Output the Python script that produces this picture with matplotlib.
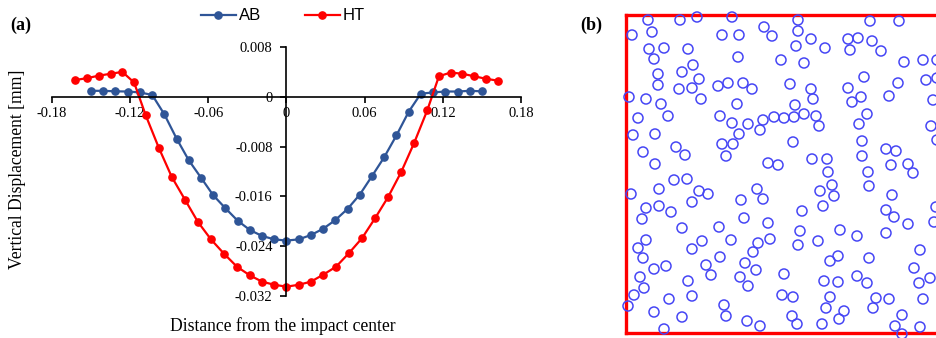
import matplotlib
matplotlib.use("Agg")
import matplotlib.pyplot as plt

plt.rcParams['font.family'] = ['Liberation Serif', 'DejaVu Serif']

# panel (a): vertical displacement profiles
ab_x = [-0.15, -0.1406, -0.1313, -0.1219, -0.1125, -0.1031, -0.0938, -0.0844, -0.075,
        -0.0656, -0.0563, -0.0469, -0.0375, -0.0281, -0.0188, -0.0094, 0.0,
        0.0094, 0.0188, 0.0281, 0.0375, 0.0469, 0.0563, 0.0656, 0.075,
        0.0844, 0.0938, 0.1031, 0.1125, 0.1219, 0.1313, 0.1406, 0.15]
ab_y = [0.00096, 0.00096, 0.00088, 0.00085, 0.0007, 0.0003, -0.0028, -0.0067, -0.0102,
        -0.0130, -0.0158, -0.0179, -0.0199, -0.0214, -0.02235, -0.0229, -0.0231,
        -0.0229, -0.0222, -0.0212, -0.0198, -0.0180, -0.0157, -0.01275, -0.0097,
        -0.0062, -0.0024, 0.0005, 0.0007, 0.00085, 0.00085, 0.00096, 0.00088]

ht_x = [-0.162, -0.153, -0.144, -0.135, -0.126, -0.117, -0.108, -0.098, -0.088,
        -0.078, -0.068, -0.058, -0.048, -0.038, -0.028, -0.0187, -0.0093, 0.0,
        0.0093, 0.0187, 0.028, 0.038, 0.048, 0.058, 0.068, 0.078, 0.088,
        0.098, 0.108, 0.117, 0.126, 0.135, 0.144, 0.153, 0.162]
ht_y = [0.0027, 0.0030, 0.0034, 0.0037, 0.0040, 0.0023, -0.0030, -0.0082, -0.0129,
        -0.0165, -0.0201, -0.0229, -0.0252, -0.0273, -0.0287, -0.0297, -0.0302, -0.0305,
        -0.0302, -0.0297, -0.0286, -0.0273, -0.0251, -0.0227, -0.0195, -0.0161, -0.0121,
        -0.0074, -0.0022, 0.0033, 0.0039, 0.0037, 0.0033, 0.0029, 0.0026]

x_ticks = [-0.18, -0.12, -0.06, 0, 0.06, 0.12, 0.18]
x_ticklabels = ['-0.18', '-0.12', '-0.06', '0', '0.06', '0.12', '0.18']
y_ticks = [-0.032, -0.024, -0.016, -0.008, 0, 0.008]
y_ticklabels = ['-0.032', '-0.024', '-0.016', '-0.008', '0', '0.008']

# panel (b): particle positions (picture frame units)
circle_x = [648, 680, 697, 632, 652, 722, 649, 664, 688, 654, 693, 682, 658, 699, 658, 679, 692, 718,
            728, 629, 646, 661, 701, 638, 668, 720, 633, 655, 722, 676, 685, 643, 726, 655,
            732, 764, 772, 739, 798, 798, 811, 796, 825, 738, 781, 804, 743, 752, 790, 811, 813,
            737, 795, 804, 794, 784, 774, 763, 816, 819, 732, 748, 760, 739, 733, 793, 768, 778,
            812, 827, 828,
            870, 899, 848, 858, 872, 850, 881, 904, 923, 937, 864, 898, 926, 937, 848, 861, 852,
            889, 933, 867, 859, 931, 862, 886, 896, 862, 937, 891, 908, 868, 913,
            674, 687, 631, 659, 699, 708, 646, 659, 671, 692, 642, 682, 719, 646, 638, 643, 692,
            702, 731, 720, 654, 666, 706, 711, 640, 644, 688, 634, 628, 669, 692, 654, 682, 724,
            726, 664,
            757, 763, 741, 820, 832, 834, 823, 744, 802, 768, 800, 758, 770, 798, 818, 753, 745,
            756, 830, 784, 740, 748, 824, 782, 793, 830, 826, 747, 760, 792, 797, 822,
            869, 892, 886, 894, 908, 934, 936, 840, 857, 886, 920, 838, 869, 914, 930, 919, 857,
            867, 838, 876, 889, 923, 873, 844, 839, 902, 895, 920, 902]
circle_y = [20, 20, 17, 35, 32, 35, 49, 48, 49, 59, 65, 72, 74, 79, 85, 89, 88, 86,
            83, 97, 99, 104, 99, 118, 116, 116, 135, 134, 144, 147, 155, 152, 156, 164,
            17, 27, 36, 35, 20, 31, 39, 46, 48, 57, 60, 63, 83, 89, 84, 89, 99,
            104, 105, 114, 117, 118, 117, 120, 116, 126, 123, 124, 130, 134, 144, 142, 163, 165,
            159, 159, 172,
            21, 21, 39, 38, 41, 50, 51, 62, 60, 60, 77, 83, 80, 78, 88, 97, 102,
            96, 100, 114, 124, 126, 141, 149, 151, 156, 140, 165, 164, 172, 173,
            180, 179, 194, 189, 191, 194, 208, 206, 212, 202, 219, 228, 227, 240, 248, 258, 249,
            241, 240, 257, 269, 266, 265, 275, 277, 288, 281, 295, 306, 299, 296, 312, 317, 305,
            316, 329,
            189, 199, 200, 191, 185, 196, 206, 218, 211, 223, 231, 243, 239, 245, 241, 252, 263,
            270, 261, 274, 277, 286, 281, 295, 297, 297, 308, 321, 326, 316, 324, 324,
            186, 195, 210, 217, 224, 222, 207, 230, 236, 233, 250, 256, 258, 268, 278, 283, 276,
            283, 282, 298, 299, 299, 308, 311, 319, 315, 326, 327, 334]

W, H = 937, 338
fig = plt.figure(figsize=(W / 100, H / 100), dpi=100)

# ---- (a) ----
ax = fig.add_axes([52 / W, 42 / H, 469 / W, 249 / H])
ax.plot(ab_x, ab_y, color='#2F5597', marker='o', markersize=5.2, linewidth=1.6, label='AB')
ax.plot(ht_x, ht_y, color='#FF0000', marker='o', markersize=5.2, linewidth=1.6, label='HT')
ax.set_xlim(-0.18, 0.18)
ax.set_ylim(-0.032, 0.008)
ax.spines['left'].set_position(('data', 0))
ax.spines['bottom'].set_position(('data', 0))
ax.spines['top'].set_visible(False)
ax.spines['right'].set_visible(False)
for s in ['left', 'bottom']:
    ax.spines[s].set_linewidth(1.2)
ax.set_xticks(x_ticks)
ax.set_xticklabels(x_ticklabels)
ax.set_yticks(y_ticks)
ax.set_yticklabels(y_ticklabels)
ax.tick_params(axis='x', direction='out', length=4, width=1.2, labelsize=10.5, pad=3)
ax.tick_params(axis='y', direction='out', length=4, width=1.2, labelsize=10.5, pad=6)

leg = ax.legend(loc='center', bbox_to_anchor=(283 / W, 1 - 16 / H), bbox_transform=fig.transFigure,
                ncol=2, frameon=False, handlelength=2.1, handletextpad=0.2, columnspacing=2.6,
                prop={'family': 'Liberation Sans', 'size': 12})

fig.text(283 / W, 1 - 326 / H, 'Distance from the impact center', ha='center', va='center', fontsize=12.7)
fig.text(18 / W, 1 - 169 / H, 'Vertical Displacement [mm]', ha='center', va='center',
         rotation=90, fontsize=12.7)
fig.text(10 / W, 1 - 25 / H, '(a)', ha='left', va='center', fontsize=13, fontweight='bold')

# ---- (b) ----
bx = fig.add_axes([626 / W, 5 / H, (960 - 626) / W, 318 / H])
bx.set_xlim(626, 960)
bx.set_ylim(333, 15)
bx.scatter(circle_x, circle_y, s=52, facecolors='none', edgecolors='#4646F5', linewidths=1.1,
           clip_on=False, zorder=3)
bx.set_xticks([])
bx.set_yticks([])
for s in ['left', 'top', 'bottom']:
    bx.spines[s].set_color('#FF0000')
    bx.spines[s].set_linewidth(2.4)
bx.spines['right'].set_visible(False)
fig.text(580 / W, 1 - 25 / H, '(b)', ha='left', va='center', fontsize=13, fontweight='bold')

fig.savefig('out.png', dpi=100)
